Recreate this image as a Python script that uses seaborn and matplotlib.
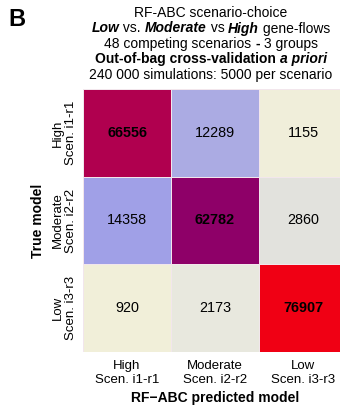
import numpy as np
import pandas as pd
import matplotlib
matplotlib.use("Agg")
import matplotlib.pyplot as plt
from matplotlib.colors import LinearSegmentedColormap
import seaborn as sns

# ---- data ----
pred_labels = ["High\nScen. i1-r1", "Moderate\nScen. i2-r2", "Low\nScen. i3-r3"]
true_labels = ["High\nScen. i1-r1", "Moderate\nScen. i2-r2", "Low\nScen. i3-r3"]
row_high = [66556, 12289, 1155]
row_moderate = [14358, 62782, 2860]
row_low = [920, 2173, 76907]

df = pd.DataFrame([row_high, row_moderate, row_low], index=true_labels, columns=pred_labels)

sns.set_theme(style="white")
plt.rcParams["font.family"] = ["Liberation Sans", "DejaVu Sans"]
plt.rcParams["text.color"] = "black"
plt.rcParams["axes.labelcolor"] = "black"
plt.rcParams["xtick.color"] = "black"
plt.rcParams["ytick.color"] = "black"

cmap = LinearSegmentedColormap.from_list("cm", [
    (0.0, "#F3F1D6"),
    (0.0115, "#F0EEDA"),
    (0.015, "#EEEEDF"),
    (0.03, "#E4E4DD"),
    (0.154, "#ABABE3"),
    (0.18, "#9E9EE8"),
    (0.50, "#7A50B8"),
    (0.785, "#8E0068"),
    (0.832, "#B0004F"),
    (0.961, "#EE0016"),
    (1.0, "#FF0000"),
])

W, H = 340, 413
fig = plt.figure(figsize=(W / 100, H / 100), dpi=100)
ax = fig.add_axes([83 / W, (H - 352) / H, 264 / W, 263 / H])

sns.heatmap(df, ax=ax, cmap=cmap, vmin=0, vmax=80000, cbar=False,
            annot=True, fmt="d", annot_kws={"fontsize": 10.4, "color": "black"},
            linewidths=0.6, linecolor="#F2E6EC")

n = df.shape[1]
for k, t in enumerate(ax.texts):
    i, j = divmod(k, n)
    t.set_color("black")
    if i == j:
        t.set_fontweight("bold")

ax.tick_params(axis="both", length=0, labelsize=9.5, labelcolor="black")
ax.set_xticklabels(pred_labels, rotation=0, linespacing=1.15, multialignment="center")
ax.set_yticklabels(true_labels, rotation=90, va="center", linespacing=1.15, multialignment="center")
ax.tick_params(axis="x", pad=6)
ax.tick_params(axis="y", pad=4)
ax.set_xlabel("RF\u2212ABC predicted model", fontsize=10, fontweight="bold", labelpad=4, color="black")
ax.set_ylabel("True model", fontsize=10, fontweight="bold", labelpad=5, color="black")

# panel letter
fig.text(8 / W, 1 - 8 / H, "B", fontsize=17, fontweight="bold", ha="left", va="top", color="black")

# multi-style title
renderer = fig.canvas.get_renderer()
fs = 10

def seg_width(s, weight, style):
    t1 = fig.text(0, 0, "x" + s + "x", fontsize=fs, fontweight=weight, fontstyle=style)
    t2 = fig.text(0, 0, "xx", fontsize=fs, fontweight=weight, fontstyle=style)
    w = t1.get_window_extent(renderer).width - t2.get_window_extent(renderer).width
    t1.remove(); t2.remove()
    return w

def draw_line(yc, segments, xc=211):
    widths = [seg_width(s, w, st) for s, w, st in segments]
    x = xc - sum(widths) / 2
    for (s, w, st), wd in zip(segments, widths):
        fig.text(x / W, 1 - yc / H, s, fontsize=fs, fontweight=w, fontstyle=st,
                 ha="left", va="center", color="black")
        x += wd

N, B_, I = "normal", "bold", "italic"
draw_line(13, [("RF-ABC scenario-choice", N, N)])
draw_line(28.5, [("Low", B_, I), (" vs. ", N, N), ("Moderate", B_, I), (" vs ", N, N),
                 ("High", B_, I), (" gene-flows", N, N)])
draw_line(44, [("48 competing scenarios ", N, N), ("-", B_, N), (" 3 groups", N, N)])
draw_line(59.5, [("Out-of-bag cross-validation ", B_, N), ("a priori", B_, I)])
draw_line(75, [("240 000 simulations: 5000 per scenario", N, N)])

fig.savefig("out.png", dpi=100)
